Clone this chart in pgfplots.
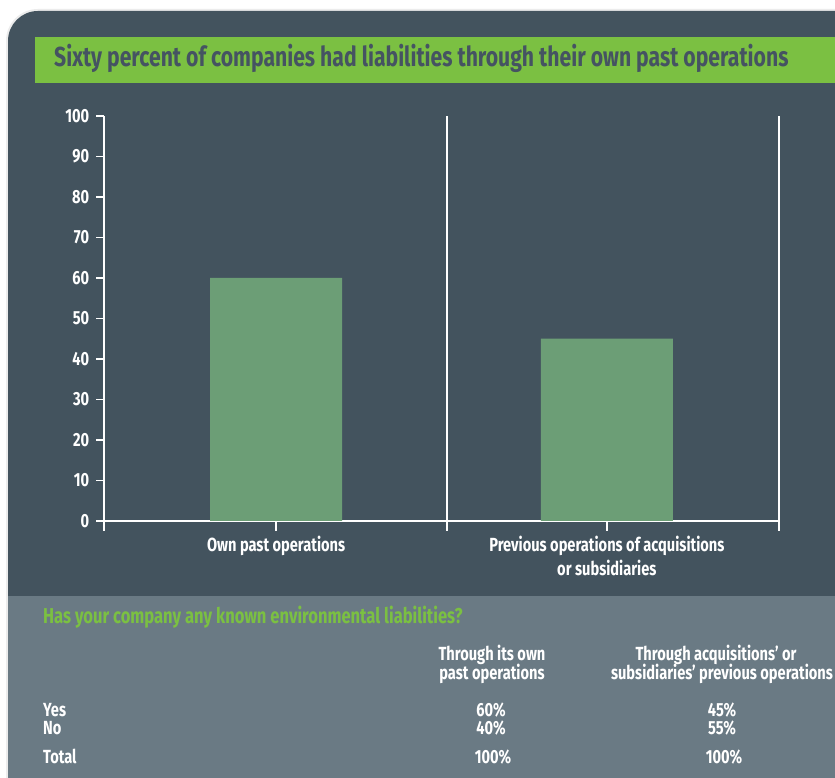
\documentclass[border=0pt]{standalone}
\usepackage{pgfplots}
\pgfplotsset{compat=1.18}
\usepackage{fontspec}
\setmainfont{Fira Sans}[FakeStretch=0.77]
\definecolor{darkbg}{RGB}{67,83,94}
\definecolor{tablebg}{RGB}{106,122,132}
\definecolor{bargreen}{RGB}{108,158,118}
\definecolor{titlegreen}{RGB}{123,192,66}
\definecolor{titletext}{RGB}{69,83,98}
\begin{document}
\begin{tikzpicture}
\begin{scope}[x=1pt,y=1pt]
\fill[white] (0,0) rectangle (835,778);
\fill[gray!15] (6,0) -- (6,737) arc[start angle=180,end angle=90,radius=32] -- (835,769) -- (835,0) -- cycle;
\fill[darkbg] (8,0) -- (8,737) arc[start angle=180,end angle=90,radius=30] -- (835,767) -- (835,0) -- cycle;
\fill[tablebg] (8,0) rectangle (835,182);
\fill[titlegreen] (35,695) rectangle (835,741);
\node[anchor=base west, inner sep=0, text=titletext, font=\bfseries\fontsize{27.5}{27.5}\selectfont] at (54,711) {Sixty percent of companies had liabilities through their own past operations};
\end{scope}
\begin{axis}[
  at={(104pt,257pt)}, anchor=south west, scale only axis,
  width=675pt, height=405pt,
  xmin=-0.5, xmax=1.5, ymin=0, ymax=100,
  enlargelimits=false,
  axis x line*=bottom, axis y line*=left,
  axis line style={white, line width=1.3pt},
  xtick={-0.5,0.516,1.5}, xticklabels={},
  xmajorgrids, grid style={white, line width=1.3pt},
  ytick={0,10,...,100},
  tick align=outside,
  xtick style={white, line width=1.3pt, /pgfplots/major tick length=10pt},
  ytick style={white, line width=1.3pt, /pgfplots/major tick length=8pt},
  /pgf/number format/assume math mode=true,
  yticklabel style={text=white, xshift=-7pt, font=\bfseries\fontsize{19}{19}\selectfont},
  extra x ticks={0.01,0.99},
  extra x tick labels={Own past operations, {Previous operations of acquisitions\\or subsidiaries}},
  extra x tick style={grid=none, /pgfplots/major tick length=0pt,
    tick label style={text=white, align=center, anchor=north, yshift=-12pt, font=\bfseries\fontsize{19}{24}\selectfont}},
]
\addplot[ybar, fill=bargreen, draw=none, bar width=132pt] coordinates {(0.01,60) (0.99,45)};
\end{axis}
\begin{scope}[x=1pt,y=1pt]
\node[anchor=base west, inner sep=0, text=titlegreen, font=\bfseries\fontsize{21.5}{21.5}\selectfont] at (43,154) {Has your company any known environmental liabilities?};
\begin{scope}[every node/.style={inner sep=0, text=white, font=\bfseries\fontsize{19}{19}\selectfont}]
\node[anchor=base, text depth=0pt] at (492,117) {Through its own};
\node[anchor=base, text height=10pt] at (492,98) {past operations};
\node[anchor=base, text depth=0pt] at (716,117) {Through acquisitions’ or};
\node[anchor=base, text height=10pt] at (722,98) {subsidiaries’ previous operations};
\node[anchor=base west] at (43,61) {Yes};
\node[anchor=base west] at (43,43) {No};
\node[anchor=base west] at (43,14) {Total};
\node[anchor=base] at (491,61) {60\%};
\node[anchor=base] at (491,43) {40\%};
\node[anchor=base] at (493,14) {100\%};
\node[anchor=base] at (722,61) {45\%};
\node[anchor=base] at (722,43) {55\%};
\node[anchor=base] at (724,14) {100\%};
\end{scope}
\end{scope}
\end{tikzpicture}
\end{document}
